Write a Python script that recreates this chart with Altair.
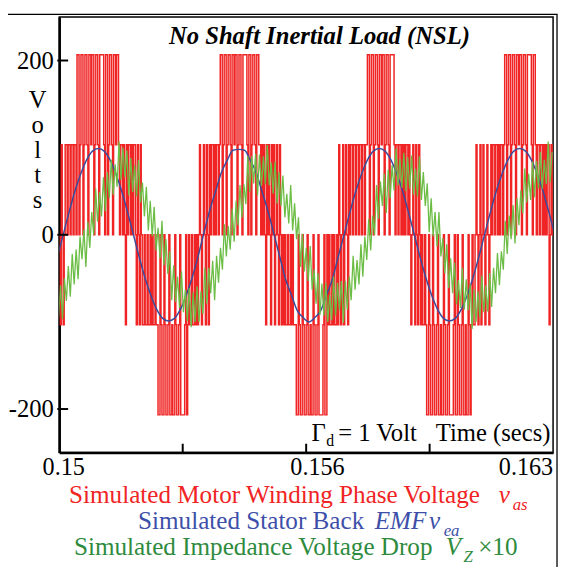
import altair as alt
import pandas as pd

FONT = "Liberation Serif"
RED, BLUE, GREEN = "#f02424", "#3b4b9e", "#6cbd45"
BLUE_TXT, GREEN_TXT = "#3d4fa8", "#2e8b3e"

# ---------------- data ----------------
x_domain = [0.15, 0.1625]
x_tick_values = [0.15, 0.153125, 0.15625, 0.159375, 0.1625]
x_tick_labels = ["0.15", "", "0.156", "", "0.163"]
y_domain = [-250, 250]
y_tick_values = [200, 0, -200]

# phase voltage v_as : PWM levels, one code per 25 us sample
red_t0, red_dt = 0.15, 2.5e-5
red_level_codes = ["N", "n", "0", "p", "P"]
red_level_values = [-206.7, -103.3, 0.0, 103.3, 206.7]
red_pattern = [
    "0n",
    "p0n0p p0pp0 pp0pp 0",
    "PP0pP P0pPP p0PPp PP0pP Pp0PP PPp0P P0pPP p0PPp PP",
    "p0pp0",
    "p0np0 pp0p0 pp0np 0np0n",
    "n0nn0 nn0n0 nn0nn",
    "NN0nN N0nNN n0NNn NN0nN Nn0NN NNn0N",
    "n0nn0 nn0n0 n0",
    "p0n0p 0np0n",
    "p0pp0 p0pp0 p",
    "PP0pP P0pPP p0PPp PP0pP Pp0PP PPp0P P0pPP p0PP",
    "pp0p0 p",
    "0np0p 0np0p n0p0n p0n0",
    "n0nn0 nn0n0 nnn",
    "NN0nN N0nNN n0NNn NN0nN Nn0NN NNn0N N0",
    "n0nn0 n0nn0 n",
    "p0n0p n0p0n",
    "p0pp0 pp0pp 0pp0p p0pp",
    "PP0pP P0pPP p0PPp PP0pP Pp0PP PP",
    "p0pp0 pp0p0 p0pp0 p0",
    "n0p0n p0np0",
    "n0nn0 n",
    "NN0nN N0nNN n0NNn NN0nN Nn0NN NNn0N N0nNN n0NNn NN0nN",
    "n0nn0",
    "p0n0p n0p0n 0p0n0",
    "p0pp0 pp0p0 pp0p",
    "PP0pP P0pPP p0PPp PP0pP Pp0PP PPp0P P",
    "p0pp0 pp0p0 p0pp",
    "n0p0",
]

# stator back EMF v_ea (sampled every 1/24 of its period)
blue_t0, blue_dt = 0.149952, 1.48125e-4
blue_values = [
    -26,
    0, 26, 50, 70, 86, 96, 99, 96, 86, 70, 50, 26,
    0, -26, -50, -70, -86, -96, -99, -96, -86, -70, -50, -26,
    1, 27, 49, 71, 85, 97, 98, 97, 85, 71, 49, 27,
    1, -25, -51, -69, -87, -95, -100, -95, -87, -69, -51, -25,
    0, 26, 50, 70, 86, 96, 99, 96, 86, 70, 50, 26,
    0, -26, -50, -70, -86, -96, -99, -96, -86, -70, -50, -26,
    0, 26, 50, 70, 86, 96, 99, 96, 86, 70, 50, 26, 0,
]

# impedance voltage drop V_Z x 10 (sampled every 1/72 of the period)
green_t0, green_dt = 0.149983, 4.9375e-5
green_values = [
    -95, -58, -97, -50, -76, -36, -71, -22, -57, -17, -51, -2, -28, 6, -37, 15, -15, 26,
    0, 53, 15, 49, 21, 66, 27, 72, 42, 86, 46, 81, 55, 107, 63, 100, 66, 97,
    45, 88, 49, 80, 44, 86, 37, 60, 21, 55, 5, 39, -2, 32, -18, 8, -27, 16,
    -35, -5, -45, -19, -75, -35, -77, -48, -84, -42, -89, -63, -99, -61, -106, -66, -100, -59,
    -100, -65, -91, -38, -79, -38, -67, -30, -75, -24, -55, -15, -40, 12, -25, 10, -17, 30,
    -8, 39, 11, 57, 20, 58, 35, 90, 49, 90, 59, 93, 45, 92, 56, 90, 58, 103,
    57, 83, 47, 84, 36, 72, 33, 68, 20, 47, 13, 57, 5, 36, -5, 20, -37, 1,
    -42, -15, -53, -13, -63, -40, -79, -44, -92, -56, -93, -55, -100, -69, -98, -48, -93, -55,
    -87, -53, -101, -53, -86, -48, -75, -24, -63, -29, -57, -11, -48, -2, -29, 18, -18, 22,
    0, 57, 18, 61, 33, 70, 25, 75, 42, 80, 51, 99, 57, 87, 54, 94, 50, 89,
    53, 91, 46, 76, 44, 90, 40, 72, 33, 59, 3, 42, -2, 26, -13, 26, -25, -4,
    -44, -11, -61, -27, -67, -32, -80, -52, -84, -38, -86, -51, -87, -57, -108, -63, -100, -65,
    -95, -47, -89, -58, -88, -44, -83, -38, -67, -21, -58, -19, -40, 16, -22, 22, -5, 34,
    -10, 42, 11, 51, 25, 76, 37, 70, 40, 84, 43, 85, 53, 95, 53, 86, 58, 107, 60, 95,
]

# ---------------- tables ----------------
codes = "".join(red_pattern).replace(" ", "")
lvl = dict(zip(red_level_codes, red_level_values))
red_v = [lvl[c] for c in codes] + [lvl[codes[-1]]]
red_df = pd.DataFrame({"t": [red_t0 + i * red_dt for i in range(len(red_v))], "v": red_v})
blue_df = pd.DataFrame({"t": [blue_t0 + i * blue_dt for i in range(len(blue_values))], "v": blue_values})
green_df = pd.DataFrame({"t": [green_t0 + i * green_dt for i in range(len(green_values))], "v": green_values})
ytick_df = pd.DataFrame({"v": y_tick_values})
xtick_df = pd.DataFrame({"t": x_tick_values[1:-1]})
one = pd.DataFrame({"a": [0]})

# label expression built from tick lists
expr = "''"
for val, lab in zip(x_tick_values, x_tick_labels):
    expr = f"(abs(datum.value - {val}) < 1e-6 ? '{lab}' : {expr})"

xs = alt.Scale(domain=x_domain, nice=False, zero=False)
ys = alt.Scale(domain=y_domain, nice=False, zero=False)
x_axis = alt.Axis(values=x_tick_values, labelExpr=expr, ticks=False, grid=False,
                  labelFlush=False, labelOverlap=False, labelPadding=3, labelFontSize=24.5,
                  labelOffset={"condition": [{"test": "datum.value < 0.151", "value": 4},
                                             {"test": "datum.value > 0.162", "value": -28}],
                               "value": 11})
y_axis = alt.Axis(values=y_tick_values, labelExpr="'' + datum.value", ticks=False, grid=False,
                  labelFlush=False, labelOverlap=False, labelPadding=6)
X = alt.X("t:Q", scale=xs, axis=x_axis, title=None)
Y = alt.Y("v:Q", scale=ys, axis=y_axis, title=None)

red = alt.Chart(red_df).mark_line(interpolate="step-after", color=RED, strokeWidth=1.5, clip=True).encode(x=X, y=Y)
blue = alt.Chart(blue_df).mark_line(interpolate="monotone", color=BLUE, strokeWidth=1.5, clip=True).encode(x=X, y=Y)
green = alt.Chart(green_df).mark_line(color=GREEN, strokeWidth=1.3, clip=True).encode(x=X, y=Y)

ytk = alt.Chart(ytick_df).mark_rule(color="black", strokeWidth=2).encode(y=Y, x=alt.value(-2), x2=alt.value(9))
xtk = alt.Chart(xtick_df).mark_rule(color="black", strokeWidth=2).encode(x=X, y=alt.value(442), y2=alt.value(433))


def txt(s, x, y, color="black", size=25, style="normal", weight="normal", align="left", lh=None):
    kw = dict(font=FONT, fontSize=size, fontStyle=style, fontWeight=weight, align=align,
              baseline="alphabetic", color=color)
    if lh:
        kw["lineHeight"] = lh
    return alt.Chart(one).mark_text(**kw).encode(x=alt.value(x), y=alt.value(y), text=alt.value(s))


frame = alt.Chart(one).mark_rect(fillOpacity=0, stroke="black", strokeWidth=1.3, clip=False).encode(
    x=alt.value(-54.5), x2=alt.value(505), y=alt.value(-2.5), y2=alt.value(600))

L = 25.5
texts = [
    txt("No Shaft Inertial Load (NSL)", 264, 27, style="italic", weight="bold", align="center"),
    txt(["V", "o", "l", "t", "s"], -22, 92, align="center", lh=25.5),
    txt("Γ", 256, 430),
    txt("d", 271, 435, size=16),
    txt("= 1 Volt", 283, 430),
    txt("Time (secs)", 382, 430),
    txt("Simulated Motor Winding Phase Voltage", 10, 493, color=RED, size=L),
    txt("v", 446, 493, color=RED, style="italic", size=L),
    txt("as", 460, 500, color=RED, style="italic", size=17),
    txt("Simulated Stator Back", 80, 520, color=BLUE_TXT, size=L),
    txt("EMF", 320, 520, color=BLUE_TXT, style="italic", size=L),
    txt("v", 375, 520, color=BLUE_TXT, style="italic", size=L),
    txt("ea", 390, 527, color=BLUE_TXT, style="italic", size=17),
    txt("Simulated Impedance Voltage Drop", 15, 546, color=GREEN_TXT, size=L),
    txt("V", 392, 546, color=GREEN_TXT, style="italic", size=L),
    txt("Z", 410, 553, color=GREEN_TXT, style="italic", size=17),
    txt("×10", 425, 546, color=GREEN_TXT, size=L),
]

chart = alt.layer(red, blue, green, ytk, xtk, frame, *texts).properties(
    width=501, height=442,
    autosize=alt.AutoSizeParams(type="none"),
    padding={"left": 52, "top": 5, "right": 5, "bottom": 112},
).configure_view(stroke="black", strokeWidth=1.5).configure_axis(
    domainColor="black", domainWidth=2.5, labelFont=FONT, labelFontSize=25, labelColor="black"
)

chart.save("out.html", embed_options={"renderer": "svg", "actions": False})
